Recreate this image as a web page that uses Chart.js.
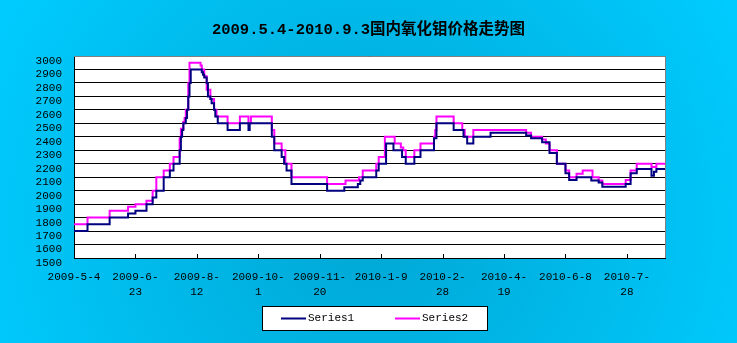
<!DOCTYPE html>
<html>
<head>
<meta charset="utf-8">
<script src="https://cdn.jsdelivr.net/npm/chart.js@4.4.1/dist/chart.umd.min.js"></script>
<style>
  html, body { margin: 0; padding: 0; background: #00ccff; }
</style>
</head>
<body>
<canvas id="grafico" width="737" height="343"></canvas>
<script>
const titulo = '2009.5.4-2010.9.3国内氧化钼价格走势图';

// dias desde 2009-5-4 (eje x) y etiquetas
const tickDays = [0, 50, 100, 150, 200, 250, 300, 350, 400, 450];
const tickLabels = ['2009-5-4', ['2009-6-', '23'], ['2009-8-', '12'], ['2009-10-', '1'], ['2009-11-', '20'],
  '2010-1-9', ['2010-2-', '28'], ['2010-4-', '19'], '2010-6-8', ['2010-7-', '28']];
const lastDay = 481;

// Series1: dia en que cambia el precio y nuevo precio
const s1Days = [0, 11, 29, 44, 50, 59, 64, 67, 73, 78, 81, 86, 87, 88, 89, 91, 92, 93, 94, 95,
  104, 105, 106, 108, 109, 111, 112, 114, 115, 117, 125, 135, 142, 143, 161, 163, 169, 171, 173, 177,
  206, 220, 231, 233, 235, 246, 248, 254, 260, 267, 270, 277, 282, 293, 295, 309, 317, 320, 325, 339,
  368, 372, 381, 387, 393, 400, 403, 409, 421, 427, 430, 449, 453, 458, 470, 472, 474, 481];
const s1Vals = [1700, 1750, 1800, 1830, 1850, 1900, 1950, 2000, 2100, 2150, 2200, 2300, 2400, 2450, 2500, 2540, 2600, 2700, 2800, 2900,
  2880, 2860, 2840, 2800, 2700, 2680, 2650, 2600, 2550, 2500, 2450, 2500, 2450, 2500, 2400, 2300, 2250, 2200, 2150, 2050,
  2000, 2025, 2050, 2075, 2100, 2150, 2200, 2350, 2300, 2250, 2200, 2250, 2300, 2390, 2500, 2450, 2400, 2350, 2400, 2430,
  2410, 2390, 2360, 2280, 2200, 2130, 2080, 2100, 2075, 2060, 2030, 2050, 2130, 2160, 2110, 2140, 2160, 2160];

// Series2
const s2Days = [0, 11, 29, 44, 50, 59, 64, 67, 73, 78, 81, 86, 87, 89, 90, 91, 93, 94,
  103, 104, 106, 108, 111, 114, 116, 125, 135, 142, 144, 161, 163, 169, 172, 177,
  206, 221, 232, 235, 246, 248, 253, 261, 266, 268, 270, 277, 282, 293, 294, 295, 309, 316, 318, 325,
  368, 372, 381, 384, 387, 393, 400, 403, 409, 414, 422, 427, 430, 449, 453, 458, 470, 474, 481];
const s2Vals = [1750, 1800, 1850, 1880, 1900, 1925, 2000, 2100, 2150, 2200, 2250, 2390, 2460, 2510, 2540, 2600, 2800, 2950,
  2930, 2900, 2850, 2750, 2680, 2600, 2550, 2500, 2550, 2500, 2550, 2450, 2350, 2300, 2200, 2100,
  2050, 2075, 2100, 2150, 2200, 2250, 2400, 2350, 2320, 2300, 2250, 2300, 2350, 2400, 2450, 2550, 2500, 2450, 2400, 2450,
  2430, 2400, 2380, 2350, 2300, 2200, 2150, 2100, 2125, 2150, 2100, 2075, 2050, 2080, 2150, 2200, 2175, 2200, 2200];

const fuente = "'Liberation Mono', 'Noto Sans CJK SC', monospace";

const fondo = {
  id: 'fondo',
  beforeDraw(chart) {
    const { ctx, width, height, chartArea: a } = chart;
    ctx.save();
    const g = ctx.createRadialGradient(370, 220, 20, 370, 220, 430);
    g.addColorStop(0, '#00a8d6');
    g.addColorStop(1, '#00ccff');
    ctx.fillStyle = g;
    ctx.fillRect(0, 0, width, height);
    ctx.fillStyle = '#ffffff';
    ctx.fillRect(a.left, a.top, a.right - a.left, a.bottom - a.top);
    ctx.restore();
  },
  beforeDatasetsDraw(chart) {
    const { ctx, chartArea: a, scales } = chart;
    ctx.save();
    ctx.strokeStyle = '#808080';
    ctx.lineWidth = 1;
    ctx.beginPath();
    ctx.moveTo(a.left, Math.round(a.top) + 0.5);
    ctx.lineTo(Math.round(a.right) + 0.5, Math.round(a.top) + 0.5);
    ctx.lineTo(Math.round(a.right) + 0.5, a.bottom);
    ctx.stroke();
    // marcas del eje x hacia dentro
    ctx.strokeStyle = '#000';
    ctx.beginPath();
    scales.x.ticks.forEach(t => {
      const px = Math.round(scales.x.getPixelForValue(t.value)) + 0.5;
      ctx.moveTo(px, a.bottom);
      ctx.lineTo(px, a.bottom - 4);
    });
    ctx.stroke();
    ctx.restore();
  },
  afterDraw(chart) {
    // leyenda en caja blanca
    const { ctx } = chart;
    ctx.save();
    ctx.fillStyle = '#fff';
    ctx.fillRect(262, 306, 225, 24);
    ctx.strokeStyle = '#000';
    ctx.lineWidth = 1;
    ctx.strokeRect(262.5, 306.5, 225, 24);
    ctx.font = '11px ' + fuente;
    ctx.textBaseline = 'middle';
    const xs = [281, 395];
    chart.data.datasets.forEach((ds, i) => {
      ctx.strokeStyle = ds.borderColor;
      ctx.lineWidth = 2;
      ctx.beginPath();
      ctx.moveTo(xs[i], 318.5);
      ctx.lineTo(xs[i] + 25, 318.5);
      ctx.stroke();
      ctx.fillStyle = '#000';
      ctx.fillText(ds.label, xs[i] + 27, 318.5);
    });
    ctx.restore();
  }
};

function serie(days, vals) {
  return days.map((d, i) => ({ x: d, y: vals[i] }));
}

new Chart(document.getElementById('grafico'), {
  type: 'line',
  data: {
    datasets: [{
      label: 'Series1',
      data: serie(s1Days, s1Vals),
      borderColor: '#000080',
      backgroundColor: '#000080',
      borderWidth: 2,
      pointRadius: 0,
      stepped: true
    }, {
      label: 'Series2',
      data: serie(s2Days, s2Vals),
      borderColor: '#ff00ff',
      backgroundColor: '#ff00ff',
      borderWidth: 2,
      pointRadius: 0,
      stepped: true
    }]
  },
  options: {
    responsive: false,
    animation: false,
    devicePixelRatio: 1,
    layout: { padding: 0 },
    plugins: {
      title: {
        display: true,
        text: titulo,
        color: '#000',
        font: { family: fuente, size: 15.5, weight: 'bold' },
        padding: { top: 21, bottom: 16.4 }
      },
      legend: { display: false },
      tooltip: { enabled: false }
    },
    scales: {
      x: {
        type: 'linear',
        min: 0,
        max: lastDay,
        afterBuildTicks: s => { s.ticks = tickDays.map(v => ({ value: v })); },
        afterFit: s => { s.height = 85; },
        ticks: {
          autoSkip: false,
          maxRotation: 0,
          padding: 10.8,
          color: '#000',
          font: { family: fuente, size: 11, lineHeight: 1.44 },
          callback: (v, i) => tickLabels[i]
        },
        grid: { display: false, drawTicks: false },
        border: { color: '#000', width: 1 }
      },
      y: {
        min: 1500,
        max: 3000,
        afterFit: s => { s.width = 74; },
        ticks: {
          stepSize: 100,
          autoSkip: false,
          padding: 12,
          labelOffset: 5,
          color: '#000',
          font: { family: fuente, size: 11 },
          callback: v => String(v)
        },
        grid: { color: '#000', drawTicks: false },
        border: { color: '#000', width: 1 }
      },
      y2: {
        position: 'right',
        afterFit: s => { s.width = 72; },
        ticks: { display: false },
        grid: { display: false, drawTicks: false },
        border: { display: false }
      }
    }
  },
  plugins: [fondo]
});
</script>
</body>
</html>
